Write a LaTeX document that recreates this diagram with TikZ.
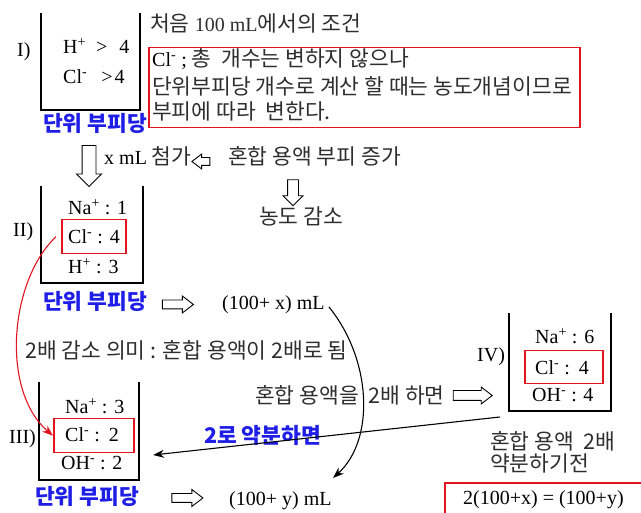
\documentclass[tikz,border=0pt]{standalone}
\usepackage{fontspec}
\setmainfont{Liberation Serif}
\newfontfamily\kr[Scale=1.075]{Noto Sans CJK KR}
\usetikzlibrary{shapes.arrows,arrows.meta}
\definecolor{kgray}{HTML}{2E2E2E}
\definecolor{kblue}{HTML}{1E1EE6}
\definecolor{kred}{HTML}{E3141E}
\newcommand\fs{\fontsize{20}{25}\selectfont}
\newcommand\K[1]{{\kr\color{kgray}#1}}
\begin{document}
\begin{tikzpicture}[x=1pt,y=-1pt,
  t/.style={inner sep=0pt, anchor=base west, font=\fs, text=black},
  k/.style={t},
  kb/.style={t, text=kblue, font=\fs\kr\bfseries},
  beaker/.style={line width=1.6pt, line join=miter},
  rbox/.style={draw=kred, line width=1.5pt, inner sep=0pt, anchor=north west},
  harrow/.style={single arrow, draw=black, fill=white, line width=0.9pt, inner xsep=0pt},
  conn/.style={line width=1.1pt, -{Stealth[length=11pt,width=8pt]}}
]
\useasboundingbox (0,0) rectangle (641,513);

% ---------- I ----------
\draw[beaker] (41,13) -- (41,110) -- (140,110) -- (140,13);
\node[t] (lI) at (17,57) {I)};
\node[t] (i1) at (63,54) {H\textsuperscript{+}\hspace{10pt}>\hspace{12pt}4};
\node[t] (i2) at (63,84) {Cl\textsuperscript{-}\hspace{14pt}>\hspace{2pt}4};
\node[kb] (uI) at (43,132) {단위 부피당};
\node[k, text=kgray] (cond) at (150,32) {\K{처음} 100 mL\K{에서의 조건}};
\node[rbox, minimum width=431pt, minimum height=80pt] (note) at (148,47) {};
\node[k] (n1) at (152,67) {Cl\textsuperscript{-} ; \K{총\ \ 개수는 변하지 않으나}};
\node[k] (n2) at (152,94.5) {\K{단위부피당 개수로 계산 할 때는 농도개념이므로}};
\node[k] (n3) at (152,120) {\K{부피에 따라\ \ 변한다.}};

% ---------- arrows between I and II ----------
\node[harrow, minimum height=41pt, inner ysep=6.5pt, single arrow head extend=5.5pt, rotate=-90] (a1) at (89,162.5) {};
\node[k] (add) at (104,165) {x mL \K{첨가}};
\node[harrow, minimum height=18pt, inner ysep=3.5pt, single arrow head extend=3.5pt, single arrow tip angle=75, rotate=180] (a2) at (203.5,161.5) {};
\node[k] (inc) at (228,165) {\K{혼합 용액 부피 증가}};
\node[harrow, minimum height=26pt, inner ysep=5pt, single arrow head extend=4.5pt, rotate=-90] (a3) at (293,190) {};
\node[k] (dec) at (259,225) {\K{농도 감소}};

% ---------- II ----------
\draw[beaker] (41,186) -- (41,283) -- (143,283) -- (143,186);
\node[t] (lII) at (13,237) {II)};
\node[t] (ii1) at (68,215) {Na\textsuperscript{+} : 1};
\node[rbox, minimum width=64pt, minimum height=34pt] (r2) at (61,219) {};
\node[t] (ii2) at (68,244) {Cl\textsuperscript{-} :\hspace{7pt}4};
\node[t] (ii3) at (68,274) {H\textsuperscript{+} :\hspace{7pt}3};
\node[kb] (uII) at (43,310) {단위 부피당};
\node[harrow, minimum height=31pt, inner ysep=4pt, single arrow head extend=4pt, single arrow tip angle=75] (a4) at (175,304.5) {};
\node[t] (vx) at (222,310) {(100+ x) mL};

\node[k] (mean) at (25,359) {\K{2배 감소 의미 : 혼합 용액이 2배로 됨}};

% ---------- III ----------
\draw[beaker] (39,382) -- (39,480) -- (139,480) -- (139,382);
\node[t] (lIII) at (9,444) {III)};
\node[t] (iii1) at (65,414) {Na\textsuperscript{+} :\hspace{7pt}3};
\node[rbox, minimum width=80pt, minimum height=34pt] (r3) at (53,418) {};
\node[t] (iii2) at (65,442) {Cl\textsuperscript{-} :\hspace{9pt}2};
\node[t] (iii3) at (61,470) {OH\textsuperscript{-} : 2};
\node[kb] (uIII) at (35,505) {단위 부피당};
\node[harrow, minimum height=31pt, inner ysep=4pt, single arrow head extend=4pt, single arrow tip angle=75] (a5) at (184.5,498) {};
\node[t] (vy) at (229,506) {(100+ y) mL};

% ---------- IV ----------
\draw[beaker] (509,313) -- (509,411) -- (611,411) -- (611,313);
\node[t] (lIV) at (477,362) {IV)};
\node[t] (iv1) at (535,344) {Na\textsuperscript{+} :\hspace{7pt}6};
\node[rbox, minimum width=78pt, minimum height=33pt] (r4) at (524,350) {};
\node[t] (iv2) at (535,375) {Cl\textsuperscript{-} :\hspace{9pt}4};
\node[t] (iv3) at (532,402) {OH\textsuperscript{-} : 4};

\node[k] (dbl) at (255,404) {\K{혼합 용액을\ \ 2배 하면}};
\node[harrow, minimum height=39pt, inner ysep=4.5pt, single arrow head extend=3.5pt, single arrow tip angle=75] (a6) at (469.5,395.5) {};
\node[kb] (red) at (204,444) {2로 약분하면};
\node[k] (bef1) at (490,450) {\K{혼합 용액\ \ 2배}};
\node[k] (bef2) at (490,472) {\K{약분하기전}};
\draw[kred, line width=1.5pt] (445,483) rectangle (645,520);
\node[t] (eq) at (463,505) {2(100+x) = (100+y)};

% ---------- connectors ----------
\coordinate (s1) at (329,307);
\coordinate (e1) at (333,478);
\draw[conn] (s1) .. controls (372,360) and (375,440) .. (e1);
\coordinate (s2) at (500,417);
\coordinate (e2) at (153,455);
\draw[conn] (s2) -- (e2);
\draw[kred, line width=1.1pt, -{Stealth[length=11pt,width=8pt]}] ([xshift=-5pt]r2.west) .. controls (10,280) and (0,390) .. (r3.west);
\end{tikzpicture}
\end{document}
